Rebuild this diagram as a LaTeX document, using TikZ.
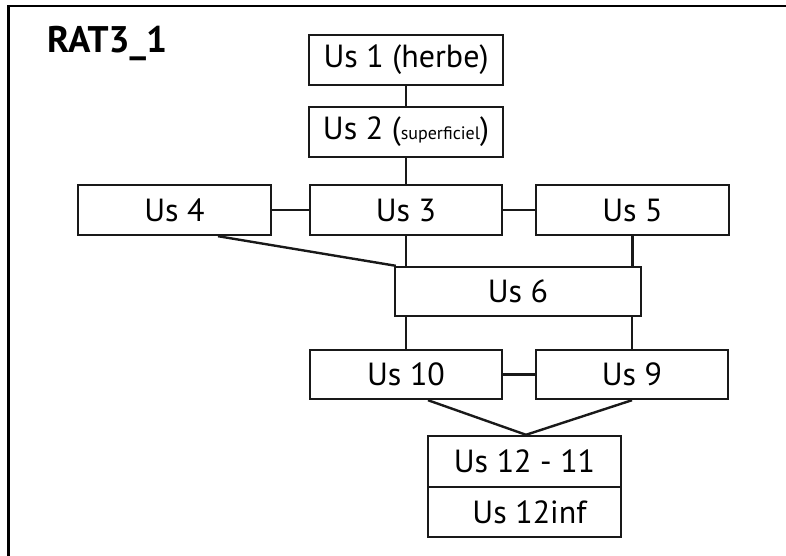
\documentclass[tikz,border=0pt]{standalone}
\usepackage{fontspec}
\setmainfont{PT Sans}
\begin{document}
\begin{tikzpicture}[x=1pt,y=-1pt,
  box/.style={draw=black!90, line width=2.4pt, inner sep=0pt, minimum height=50pt, font=\fontsize{32}{36}\selectfont},
  link/.style={draw=black!90, line width=2.4pt}]
\useasboundingbox (0,0) rectangle (786,556);
% frame (top and left edges visible)
\draw[line width=2.6pt, line cap=rect] (786,6) -- (8.5,6) -- (8.5,556);
\node[anchor=base west, inner sep=0pt, font=\fontsize{37}{40}\selectfont\bfseries] (title) at (47,53) {RAT3\_1};
% boxes
\node[box, minimum width=194pt] (us1) at (406,60) {Us 1 (herbe)};
\node[box, minimum width=194pt] (us2) at (406,132) {Us 2 ({\fontsize{18}{20}\selectfont superficiel})};
\node[box, minimum width=193pt] (us4) at (174.5,210) {Us 4};
\node[box, minimum width=192pt] (us3) at (406,210) {Us 3};
\node[box, minimum width=193pt] (us5) at (632.5,210) {Us 5};
\node[box, minimum width=246pt, minimum height=49pt] (us6) at (518,291.5) {Us 6};
\node[box, minimum width=192pt, minimum height=49pt] (us10) at (406,374.5) {Us 10};
\node[box, minimum width=192pt, minimum height=49pt] (us9) at (632,374.5) {Us 9};
\node[box, minimum width=193pt, minimum height=51pt] (us12) at (524.5,461.5) {Us 12 - 11};
\node[box, minimum width=193pt, minimum height=50pt] (us12inf) at (524.5,512) {\hspace{10pt}Us 12inf};
% connectors
\draw[link] (us1.south) -- (us2.north);
\draw[link] (us2.south) -- (us3.north);
\draw[link] (us4.east) -- (us3.west);
\draw[link] (us3.east) -- (us5.west);
\draw[link] (us3.south) -- (us3.south |- us6.north);
\draw[link] (us5.south) -- (us5.south |- us6.north);
\draw[link] (us4.south) ++(43.5,0) coordinate (a4) (a4) -- ([xshift=2pt]us6.north west);
\draw[link] (us10.north |- us6.south) -- (us10.north);
\draw[link] (us9.north |- us6.south) -- (us9.north);
\draw[link] (us10.east) -- (us9.west);
\draw[link] ([xshift=22pt]us10.south) -- ([xshift=1.5pt]us12.north);
\draw[link] (us9.south) -- ([xshift=1.5pt]us12.north);
\end{tikzpicture}
\end{document}
